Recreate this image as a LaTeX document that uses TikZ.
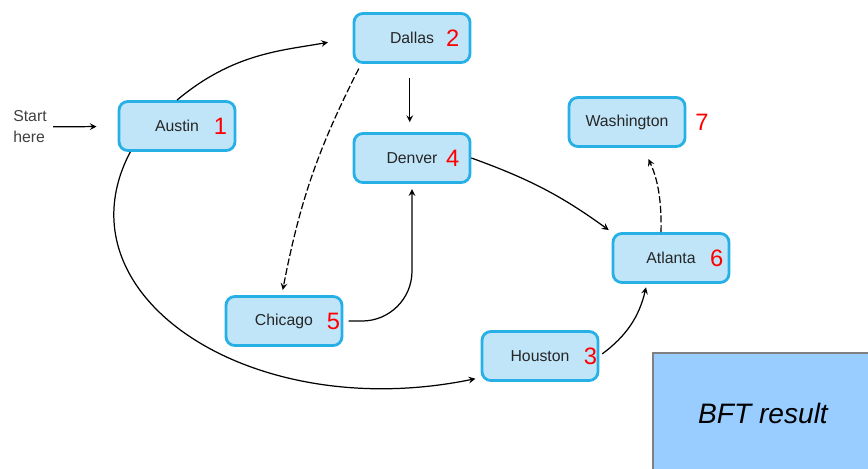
\documentclass[tikz,border=0pt]{standalone}
\usepackage{fontspec}
\setmainfont{Liberation Sans}
\usepackage{xcolor}
\usepackage{tikz}
\usetikzlibrary{positioning}

\definecolor{boxfill}{RGB}{192,229,248}
\definecolor{boxline}{RGB}{38,176,230}
\definecolor{resfill}{RGB}{153,204,255}

\begin{document}
\begin{tikzpicture}[x=0.02cm, y=-0.02cm, >=stealth, line width=0.7pt,
        C node/.style={rectangle, rounded corners=5pt, draw=boxline, line width=1.6pt,
            fill=boxfill, minimum width=2.32cm, minimum height=0.98cm,
            font=\fontsize{9}{10}\selectfont, text=black!85},
        N node/.style={inner sep=0pt, text=red, font=\fontsize{13.5}{14}\selectfont},
        dash line/.style={dash pattern=on 4pt off 1.5pt}]

    \useasboundingbox (0,0) rectangle (868,468);

    \node[C node] (1) at (177,126) {Austin};
    \node[C node] (2) at (412,38) {Dallas};
    \node[C node] (3) at (540,356) {Houston};
    \node[C node] (4) at (412,158) {Denver};
    \node[C node] (5) at (284,321) {Chicago};
    \node[C node] (6) at (671,258) {Atlanta};
    \node[C node] (7) at (627,122) {Washington};

    \node[N node, left=5pt of 1.east] (n1) {1};
    \node[N node, left=6.5pt of 2.east] (n2) {2};
    \node[N node, left=1pt of 3.east] (n3) {3};
    \node[N node, left=6.5pt of 4.east] (n4) {4};
    \node[N node, left=1.5pt of 5.east] (n5) {5};
    \node[N node, left=3.7pt of 6.east] (n6) {6};
    \node[N node, right=4.8pt of 7.east] (n7) {7};

    \node[align=left, text=black!75, font=\fontsize{9}{12}\selectfont] (s) at (30,127) {Start\\here};

    \node[draw=gray, fill=resfill, minimum width=4.4cm, minimum height=2.4cm,
        font=\fontsize{16}{18}\selectfont\itshape] (r) at (763,413) {BFT result};

    \path[->]
    (s) edge[shorten >=0.42cm] (1)
    (1.north) edge[out=40, in=190, shorten >=0.5cm] (2.west)
    (2.265) edge[shorten <=0.28cm, shorten >=0.2cm] (4.95)
    (2.207) edge[bend right=8, dash line, shorten <=3pt, shorten >=3pt] (5.95)
    (4.east) edge[bend left=8, shorten >=2pt] (6.north west)
    (3.east) edge[bend right=20, shorten <=2pt, shorten >=2pt] (6.227)
    (6.111) edge[bend right=13, dash line, shorten >=7pt] (7.302)
    ;

    \draw[->, rounded corners=1cm, shorten <=3pt, shorten >=3pt] (5.east) -| (4.south);
    \draw[->, shorten >=3pt] (1.209) .. controls (55,295) and (250,425) .. (3.200);
\end{tikzpicture}
\end{document}
